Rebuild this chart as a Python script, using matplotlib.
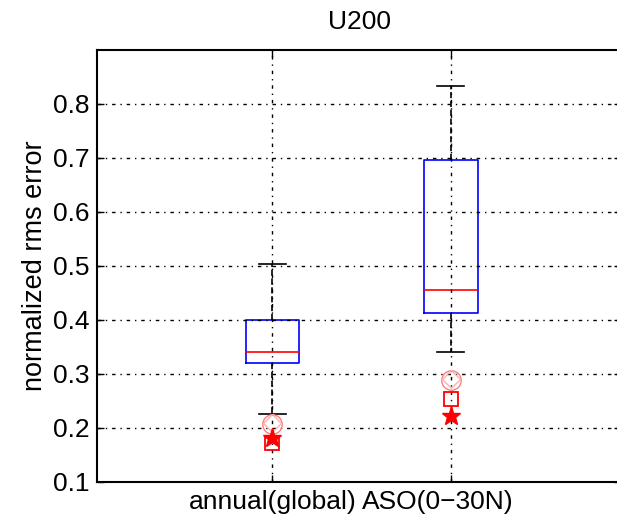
import matplotlib
matplotlib.use("Agg")
import matplotlib.pyplot as plt
import matplotlib.transforms as mtransforms

categories = ["annual(global)", "ASO(0\u221230N)"]
q1 = [0.320, 0.413]
median = [0.341, 0.456]
q3 = [0.400, 0.696]
whislo = [0.226, 0.341]
whishi = [0.504, 0.833]
circle_vals = [0.207, 0.288]
diamond_vals = [0.209, 0.291]
square_vals = [0.173, 0.254]
star_vals = [0.182, 0.222]

plt.rcParams['font.family'] = ['Liberation Sans', 'DejaVu Sans']
fig = plt.figure(figsize=(6.17, 5.19), dpi=100)
ax = fig.add_axes([0.157, 0.0713, 0.85, 0.8324])

stats = []
for i in range(len(categories)):
    stats.append(dict(med=median[i], q1=q1[i], q3=q3[i], whislo=whislo[i], whishi=whishi[i], fliers=[], label=categories[i]))
pos = [1, 2]
ax.bxp(stats, positions=pos, widths=0.30, showfliers=False,
       boxprops=dict(color='blue', lw=1.2),
       medianprops=dict(color='red', lw=1.2),
       whiskerprops=dict(color='black', lw=1.2, ls='--'),
       capprops=dict(color='black', lw=1.2), capwidths=0.15)

ax.plot(pos, circle_vals, 'o', ms=14, mfc='none', mec='#ff8080', mew=1.0, zorder=4)
ax.plot(pos, diamond_vals, 'D', ms=9, mfc='none', mec='#ffb0b0', mew=1.0, zorder=4)
ax.plot(pos, square_vals, 's', ms=10, mfc='none', mec='red', mew=1.3, zorder=4)
ax.plot(pos, star_vals, '*', ms=14, color='red', zorder=4)

ax.set_xlim(0.017, 2.955)
ax.set_ylim(0.1, 0.9)
ax.set_yticks([0.1, 0.2, 0.3, 0.4, 0.5, 0.6, 0.7, 0.8])
ax.set_xticks(pos)
ax.set_xticklabels(categories)
ax.tick_params(direction='in', top=True, right=True, labelsize=19, length=5, width=1)
ax.tick_params(axis='x', pad=6)
ax.tick_params(axis='y', pad=5)
ax.grid(True, color='black', ls=(0, (2.5, 3.5, 1, 3.5)), lw=1.0, zorder=5)
ax.set_axisbelow(False)
for s in ax.spines.values():
    s.set_linewidth(1.5)
ax.set_title("U200", fontsize=19, pad=15)
ax.set_ylabel("normalized rms error", fontsize=19.5, labelpad=4)

# second tick label sits slightly left of its tick in the reference
lbl = ax.get_xticklabels()[1]
lbl.set_transform(lbl.get_transform() + mtransforms.ScaledTranslation(-0.13, 0, fig.dpi_scale_trans))

fig.savefig("out.png", dpi=100)
